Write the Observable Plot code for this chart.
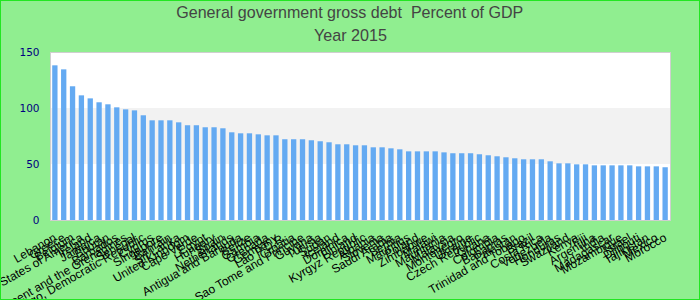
<!DOCTYPE html>
<html>
<head>
<meta charset="utf-8">
<script src="https://cdn.jsdelivr.net/npm/d3@7"></script>
<script src="https://cdn.jsdelivr.net/npm/@observablehq/plot@0.6"></script>
<style>
  html, body { margin: 0; padding: 0; }
  #wrap {
    width: 700px; height: 300px; box-sizing: border-box;
    border: 1px solid #22e622; background: #90EE90; overflow: hidden;
    font-family: "Liberation Sans", Arial, sans-serif;
  }
  .t { text-align: center; color: #444; font-size: 17px; white-space: nowrap; }
  .t span { display: inline-block; transform-origin: center; }
  #title { height: 24px; line-height: 24px; }
  #subtitle { height: 22px; line-height: 22px; }
  svg { display: block; }
</style>
</head>
<body>
<div id="wrap">
  <div class="t" id="title"><span>General government gross debt&nbsp; Percent of GDP</span></div>
  <div class="t" id="subtitle"><span>Year 2015</span></div>
  <div id="chart"></div>
</div>
<script>
const countries = [
  "Lebanon", "Greece", "Belgium", "United States of America", "Ireland",
  "Jamaica", "Bhutan", "Barbados", "Saint Vincent and the Grenadines", "Senegal",
  "Congo, Democratic Republic", "Cyprus", "Singapore", "Bahrain", "Sri Lanka",
  "United Kingdom", "Cape Verde", "Egypt", "Hungary", "Spain",
  "Netherlands", "Antigua and Barbuda", "Belize", "Gambia", "Grenada",
  "Germany", "Lao P.D.R.", "Croatia", "Sao Tome and Principe", "Guyana",
  "Tunisia", "Sudan", "Iceland", "Dominica", "Finland",
  "Kyrgyz Republic", "Albania", "Slovenia", "Saudi Arabia", "Serbia",
  "Mauritius", "Poland", "Zimbabwe", "Malawi", "Mauritania",
  "Malaysia", "Montenegro", "Ukraine", "Czech Republic", "Ghana",
  "Colombia", "Bahamas", "Pakistan", "Trinidad and Tobago", "Brazil",
  "Costa Rica", "Venezuela", "Honduras", "Swaziland", "Kenya",
  "Fiji", "Argentina", "India", "Madagascar", "Mozambique",
  "Israel", "Djibouti", "Tajikistan", "Mexico", "Morocco"
];
const debt = [
  138.1, 134.5, 119.4, 111.3, 108.6,
  105.1, 103.3, 100.6, 98.8, 97.9,
  93.5, 89.0, 89.0, 89.0, 87.2,
  84.6, 84.6, 82.8, 82.8, 81.9,
  78.3, 77.4, 77.4, 76.5, 75.6,
  75.6, 72.1, 72.1, 72.1, 71.2,
  70.3, 69.4, 67.6, 67.6, 66.7,
  66.7, 64.9, 64.9, 64.0, 63.1,
  61.3, 61.3, 61.3, 61.3, 60.4,
  59.6, 59.6, 59.6, 58.7, 57.8,
  56.9, 56.0, 55.1, 54.2, 54.2,
  54.2, 52.4, 50.6, 50.6, 49.7,
  49.7, 48.8, 48.8, 48.8, 48.8,
  48.8, 47.9, 47.9, 47.9, 47.1
];
const yTicks = [0, 50, 100, 150];
const bands = [{y1: 50, y2: 100}];

const data = countries.map((c, i) => ({country: c, value: debt[i]}));

const chart = Plot.plot({
  width: 698,
  height: 253,
  marginTop: 5,
  marginBottom: 80,
  marginLeft: 49,
  marginRight: 29,
  style: {background: "transparent", fontFamily: "'Liberation Sans', Arial, sans-serif", overflow: "visible"},
  x: {type: "band", domain: countries, paddingInner: 0.4, paddingOuter: 0.25, label: null},
  y: {domain: [0, 150], label: null},
  marks: [
    Plot.frame({fill: "white"}),
    Plot.rect(bands, {y1: "y1", y2: "y2", fill: "#f2f2f2"}),
    Plot.barY(data, {x: "country", y: "value", fill: "#64aaf2"}),
    Plot.frame({stroke: "#cfcfcf"}),
    Plot.axisY({ticks: yTicks, tickSize: 0, tickPadding: 11, color: "#000080", fontSize: 10.5, fontFamily: "'DejaVu Sans', sans-serif", label: null}),
    Plot.axisX({tickRotate: -30, tickSize: 0, tickPadding: 16, color: "black", fontSize: 12, label: null})
  ]
});
document.getElementById("chart").appendChild(chart);

// fit title widths to the reference
function fit(id, target) {
  const s = document.querySelector("#" + id + " span");
  const w = s.getBoundingClientRect().width;
  s.style.transform = "scaleX(" + (target / w) + ")";
}
fit("title", 347);
fit("subtitle", 73);
</script>
</body>
</html>
